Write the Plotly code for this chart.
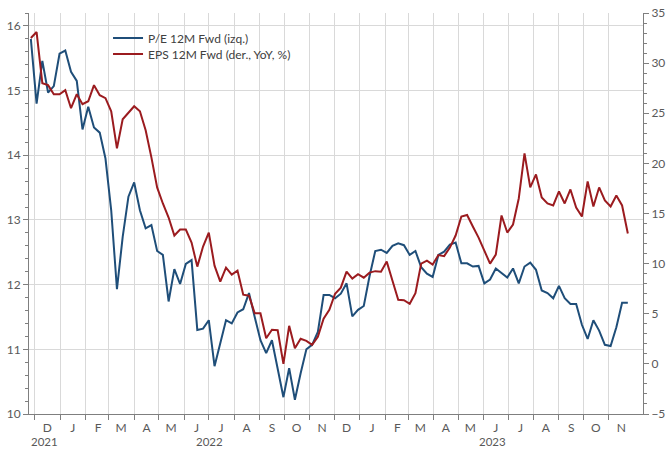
import pandas as pd
import plotly.graph_objects as go

# Weekly observation dates (Fridays)
dates = pd.date_range("2021-11-26", periods=105, freq="7D")

pe_12m_fwd = [
    15.80, 14.80, 15.46, 14.97, 15.07, 15.57, 15.62, 15.29, 15.15, 14.40,
    14.75, 14.43, 14.35, 13.95, 13.15, 11.93, 12.74, 13.36, 13.58, 13.15,
    12.87, 12.92, 12.52, 12.46, 11.74, 12.24, 12.01, 12.32, 12.38, 11.30,
    11.32, 11.45, 10.74, 11.09, 11.45, 11.40, 11.57, 11.62, 11.87, 11.50,
    11.14, 10.94, 11.14, 10.70, 10.26, 10.71, 10.22, 10.63, 11.00, 11.07,
    11.27, 11.84, 11.84, 11.79, 11.86, 12.02, 11.51, 11.61, 11.67, 12.13,
    12.52, 12.54, 12.49, 12.60, 12.64, 12.61, 12.46, 12.52, 12.27, 12.17,
    12.12, 12.46, 12.51, 12.62, 12.65, 12.33, 12.33, 12.28, 12.29, 12.02,
    12.08, 12.25, 12.18, 12.11, 12.25, 12.02, 12.28, 12.34, 12.23, 11.91,
    11.87, 11.79, 11.98, 11.79, 11.70, 11.70, 11.38, 11.16, 11.45, 11.29,
    11.07, 11.05, 11.34, 11.72, 11.72,
]

eps_12m_fwd_yoy = [
    32.5, 33.1, 28.0, 27.8, 26.9, 26.9, 27.3, 25.5, 26.9, 25.9,
    26.2, 27.8, 26.8, 26.5, 25.2, 21.5, 24.4, 25.1, 25.7, 25.2,
    23.3, 20.6, 17.6, 16.0, 14.6, 12.8, 13.4, 13.4, 12.1, 9.7,
    11.7, 13.1, 9.8, 8.2, 9.6, 8.9, 9.3, 6.9, 6.8, 5.05,
    5.05, 2.55, 3.4, 3.35, 0.0, 3.8, 1.56, 2.5, 2.3, 1.9,
    2.7, 4.5, 5.4, 7.0, 7.6, 9.2, 8.5, 8.95, 8.6, 9.1,
    9.25, 9.2, 10.2, 8.3, 6.4, 6.35, 6.0, 7.05, 10.0, 10.3,
    9.9, 10.85, 10.75, 11.6, 12.8, 14.7, 14.85, 13.7, 12.6, 11.3,
    10.0, 10.9, 14.8, 13.1, 13.9, 16.5, 21.0, 17.6, 18.9, 16.6,
    16.0, 15.8, 17.2, 16.0, 17.4, 15.6, 14.7, 18.2, 15.7, 17.6,
    16.3, 15.7, 16.8, 15.8, 13.0,
]

month_letters = ["D", "J", "F", "M", "A", "M", "J", "J", "A", "S", "O", "N",
                 "D", "J", "F", "M", "A", "M", "J", "J", "A", "S", "O", "N"]
month_starts = pd.date_range("2021-12-01", periods=len(month_letters), freq="MS")
month_mids = [d + pd.Timedelta(days=15) for d in month_starts]

year_labels = ["2021", "2022", "2023"]
year_positions = ["2021-12-13", "2022-07-02", "2023-06-12"]

blue = "#1F4E79"
red = "#9B1B1F"
axis_col = "#7F7F7F"
txt_col = "#595959"
grid_col = "#D9D9D9"
FONT = "Lato, Liberation Sans, sans-serif"

fig = go.Figure()
fig.add_trace(go.Scatter(x=dates, y=pe_12m_fwd, mode="lines",
                         name="P/E 12M Fwd (izq.)", legend="legend",
                         line=dict(color=blue, width=2)))
fig.add_trace(go.Scatter(x=dates, y=eps_12m_fwd_yoy, mode="lines",
                         name="EPS 12M Fwd (der., YoY, %)", yaxis="y2",
                         legend="legend2",
                         line=dict(color=red, width=2)))

for lab, pos in zip(year_labels, year_positions):
    fig.add_annotation(x=pos, y=-0.0698, xref="x", yref="paper", text=lab,
                       showarrow=False, yanchor="middle", xanchor="center",
                       borderpad=0,
                       font=dict(family=FONT, size=11.5, color=txt_col))

leg_common = dict(xanchor="left", yanchor="middle", bgcolor="rgba(0,0,0,0)",
                  itemwidth=30, font=dict(family=FONT, size=12, color="#404040"))

fig.update_layout(
    width=667, height=449,
    margin=dict(l=29, r=24, t=13, b=35, autoexpand=False),
    paper_bgcolor="white", plot_bgcolor="white",
    showlegend=True,
    legend=dict(x=0.1287, y=0.9377, **leg_common),
    legend2=dict(x=0.1287, y=0.8978, **leg_common),
    xaxis=dict(
        type="date", automargin=False,
        range=["2021-11-23 18:00", "2023-12-12 12:00"],
        tickmode="array", tickvals=month_mids, ticktext=month_letters,
        ticks="outside", ticklen=3, tickcolor="rgba(0,0,0,0)",
        showgrid=False, zeroline=False,
        showline=True, linecolor=axis_col, linewidth=1,
        tickfont=dict(family=FONT, size=12, color=txt_col),
        minor=dict(tickmode="array", tickvals=list(month_starts),
                   ticks="outside", ticklen=5, tickcolor=axis_col,
                   showgrid=True, gridcolor=grid_col, gridwidth=1),
    ),
    yaxis=dict(
        automargin=False,
        range=[10, 16.2], tickmode="linear", tick0=10, dtick=1,
        ticks="outside", ticklen=5, tickcolor=axis_col,
        showgrid=True, gridcolor=grid_col, gridwidth=1, zeroline=False,
        showline=True, linecolor=axis_col, linewidth=1,
        tickfont=dict(family=FONT, size=12, color=txt_col),
        minor=dict(tick0=10, dtick=0.2, ticks="outside", ticklen=3,
                   tickcolor=axis_col, showgrid=False),
    ),
    yaxis2=dict(
        automargin=False, color=axis_col,
        range=[-5, 35], overlaying="y", side="right",
        tickmode="linear", tick0=-5, dtick=5,
        ticks="outside", ticklen=5, tickcolor=axis_col,
        showgrid=False, zeroline=False,
        showline=True, linecolor=axis_col, linewidth=1,
        tickfont=dict(family=FONT, size=12, color=txt_col),
        minor=dict(tick0=-5, dtick=1, ticks="outside", ticklen=3,
                   tickcolor=axis_col, showgrid=False),
    ),
)

fig.write_html(
    "out.html",
    config={"displayModeBar": False},
    post_script="document.body.style.margin='0';document.body.style.overflow='hidden';",
)
